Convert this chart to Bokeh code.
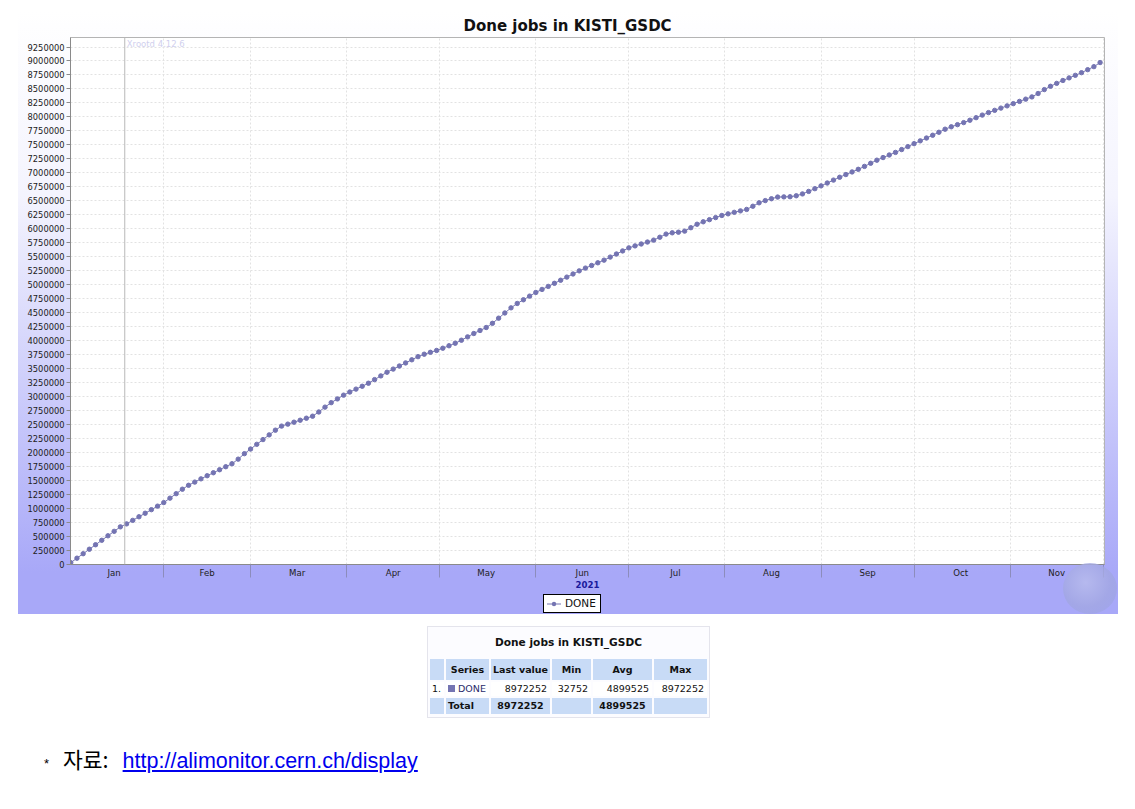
import pandas as pd
from bokeh.plotting import figure
from bokeh.models import (Range1d, FixedTicker, NumeralTickFormatter, Span, Label, Div, Title)
from bokeh.layouts import column
from bokeh.embed import file_html
from bokeh.resources import INLINE

# ---------------- data ----------------
chart_title = "Done jobs in KISTI_GSDC"
series_name = "DONE"
year_label = "2021"
first_date = "2021-01-02"          # one point every two days
marker_date = "2021-01-19 10:00"
marker_text = "Xrootd 4.12.6"
month_names = ["Jan", "Feb", "Mar", "Apr", "May", "Jun", "Jul", "Aug", "Sep", "Oct", "Nov"]
month_mid_dates = ["2021-01-16", "2021-02-15", "2021-03-16", "2021-04-16", "2021-05-16",
                   "2021-06-16", "2021-07-16", "2021-08-16", "2021-09-16", "2021-10-16", "2021-11-16"]
month_start_dates = ["2021-02-01", "2021-03-01", "2021-04-01", "2021-05-01", "2021-06-01",
                     "2021-07-01", "2021-08-01", "2021-09-01", "2021-10-01", "2021-11-01", "2021-12-01"]
y_ticks = list(range(0, 9250001, 250000))

done_values = [
    32752, 113000, 193000, 273000, 353000, 433000, 513000, 593000, 673000, 726000,
    789000, 853000, 916000, 980000, 1043000, 1107000, 1186000, 1266000, 1346000, 1416000,
    1473000, 1531000, 1587000, 1640000, 1694000, 1748000, 1801000, 1883000, 1981000, 2064000,
    2148000, 2233000, 2317000, 2401000, 2474000, 2509000, 2544000, 2579000, 2615000, 2651000,
    2726000, 2813000, 2893000, 2960000, 3027000, 3083000, 3135000, 3186000, 3240000, 3305000,
    3371000, 3437000, 3493000, 3548000, 3603000, 3659000, 3715000, 3759000, 3793000, 3826000,
    3866000, 3910000, 3955000, 4009000, 4069000, 4129000, 4183000, 4236000, 4311000, 4403000,
    4496000, 4588000, 4666000, 4732000, 4797000, 4863000, 4917000, 4971000, 5026000, 5081000,
    5137000, 5193000, 5249000, 5298000, 5345000, 5393000, 5440000, 5495000, 5550000, 5605000,
    5660000, 5695000, 5729000, 5764000, 5798000, 5850000, 5906000, 5929000, 5940000, 5959000,
    6020000, 6082000, 6126000, 6164000, 6201000, 6239000, 6268000, 6295000, 6321000, 6347000,
    6404000, 6465000, 6505000, 6538000, 6568000, 6571000, 6574000, 6591000, 6624000, 6669000,
    6718000, 6768000, 6819000, 6871000, 6922000, 6970000, 7017000, 7064000, 7116000, 7172000,
    7227000, 7274000, 7320000, 7366000, 7417000, 7470000, 7523000, 7573000, 7623000, 7673000,
    7726000, 7781000, 7824000, 7862000, 7899000, 7941000, 7987000, 8033000, 8078000, 8118000,
    8158000, 8198000, 8238000, 8278000, 8318000, 8358000, 8419000, 8489000, 8548000, 8600000,
    8652000, 8698000, 8744000, 8791000, 8845000, 8899000, 8972252,
]

# summary table (as printed under the chart)
table_headers = ["Series", "Last value", "Min", "Avg", "Max"]
table_row = ["8972252", "32752", "4899525", "8972252"]
table_total = ["8972252", "", "4899525", ""]
source_label = "자료:"
source_url = "http://alimonitor.cern.ch/display"

# ---------------- helpers ----------------
def ms(s):
    return float(pd.Timestamp(s).value // 10**6)

dates = pd.date_range(first_date, periods=len(done_values), freq="2D")

SERIES = "#7474b2"
LAVENDER = "#a8a8f8"
FONT = "DejaVu Sans"

p = figure(frame_width=1034, frame_height=527, x_axis_type="datetime",
           x_range=Range1d(ms("2021-01-01 22:00"), ms("2021-12-01 10:00")),
           y_range=Range1d(0, 9420000),
           output_backend="svg", toolbar_location=None,
           min_border_left=52, min_border_right=14, min_border_top=27, min_border_bottom=26,
           margin=(10, 0, 0, 18))
p.border_fill_color = None
p.background_fill_color = "white"
p.styles = {"background": f"linear-gradient(to bottom, #ffffff 0%, #f4f4fe 32%, {LAVENDER} 97%, {LAVENDER} 100%)"}
p.outline_line_color = "#b4b4b4"

p.title = Title(text=chart_title, align="left", text_font=FONT, text_font_size="15px",
                text_font_style="bold", text_color="#111111", offset=393, standoff=6)

# y axis
p.yaxis.ticker = FixedTicker(ticks=y_ticks)
p.yaxis.formatter = NumeralTickFormatter(format="0")
p.yaxis.major_label_text_font = FONT
p.yaxis.major_label_text_font_size = "8.3px"
p.yaxis.major_label_text_color = "#222222"
p.yaxis.major_label_standoff = 2
p.yaxis.major_tick_out = 4
p.yaxis.major_tick_in = 0
p.yaxis.minor_tick_line_color = None
p.yaxis.axis_line_color = "#8a8a8a"
p.yaxis.major_tick_line_color = "#8a8a8a"

# x axis: labels mid-month, tick lines at month boundaries
mid_ms = [ms(d) for d in month_mid_dates]
start_ms = [ms(d) for d in month_start_dates]
p.xaxis.ticker = FixedTicker(ticks=mid_ms, minor_ticks=start_ms)
p.xaxis.major_label_overrides = {t: n for t, n in zip(mid_ms, month_names)}
p.xaxis.major_label_text_font = FONT
p.xaxis.major_label_text_font_size = "8.6px"
p.xaxis.major_label_text_color = "#222222"
p.xaxis.major_label_standoff = -10
p.xaxis.major_tick_out = 0
p.xaxis.major_tick_in = 0
p.xaxis.minor_tick_out = 13
p.xaxis.minor_tick_in = 0
p.xaxis.minor_tick_line_color = "#8c8cbc"
p.xaxis.axis_line_color = "#8a8a8a"
p.xaxis.axis_label = year_label
p.xaxis.axis_label_text_font = FONT
p.xaxis.axis_label_text_font_size = "8.6px"
p.xaxis.axis_label_text_font_style = "bold"
p.xaxis.axis_label_text_color = "#1a1a9c"
p.xaxis.axis_label_standoff = 0

# grids
p.xgrid.ticker = FixedTicker(ticks=start_ms)
p.ygrid.ticker = FixedTicker(ticks=y_ticks)
for g in (p.xgrid, p.ygrid):
    g.grid_line_color = "#e2e2e2"
    g.grid_line_dash = "2 2"
    g.grid_line_width = 1

# event marker
p.add_layout(Span(location=ms(marker_date), dimension="height", line_color="#b8b8b8", line_width=1))
p.add_layout(Label(x=ms(marker_date), y=9300000, text=marker_text, x_offset=2,
                   text_font=FONT, text_font_size="8.5px", text_color="#d0d0ee",
                   text_baseline="middle"))

# series
p.line(dates, done_values, line_color=SERIES, line_width=1)
p.scatter(dates, done_values, size=4.4, fill_color=SERIES, line_color=SERIES)

# ---------------- legend band (continuation of the chart panel) ----------------
legend_html = f"""
<div style="position:relative;width:1100px;height:24px;background:{LAVENDER};">
  <div style="position:absolute;left:1045px;top:-27px;width:54px;height:51px;border-radius:50%;
              background:radial-gradient(circle at 42% 38%, #b9bdec 0%, #a2a7e2 55%, #9da2ea 100%);opacity:0.8;"></div>
  <div style="position:absolute;left:525px;top:4px;box-sizing:border-box;height:19px;padding:0 4px 0 3px;
              background:#ffffff;border:1px solid #000;display:flex;align-items:center;
              font-family:'DejaVu Sans',sans-serif;font-size:10.5px;color:#111;white-space:nowrap;">
    <svg width="14" height="10" style="margin-right:4px;"><line x1="0" y1="5" x2="14" y2="5" stroke="{SERIES}" stroke-width="1"/><circle cx="7" cy="5" r="2.2" fill="{SERIES}"/></svg>{series_name}
  </div>
</div>
"""
legend_div = Div(text=legend_html, width=1100, height=24, margin=(0, 0, 0, 18))

# ---------------- summary table ----------------
BLUE = "#c8dbf6"
cell = "padding:0 2px;white-space:nowrap;"
hdr = "".join(
    f'<th style="{cell}background:{BLUE};text-align:center;">{h}</th>' for h in table_headers)
row = "".join(
    f'<td style="{cell}background:#ffffff;text-align:right;padding-right:3px;">{v}</td>' for v in table_row)
tot = "".join(
    f'<td style="{cell}background:{BLUE};text-align:center;font-weight:bold;">{v}</td>' for v in table_total)
table_html = f"""
<div style="box-sizing:border-box;width:283px;height:92px;border:1px solid #e4e4ec;background:#fcfcff;
            font-family:'DejaVu Sans',sans-serif;color:#111;">
  <div style="box-sizing:border-box;height:30px;padding-top:9px;text-align:center;font-weight:bold;
              font-size:10.6px;line-height:13px;">{chart_title}</div>
  <table style="border-collapse:separate;border-spacing:2px 2px;margin:0;table-layout:fixed;
                font-size:9.5px;width:280px;">
    <colgroup><col style="width:14px"><col style="width:43px"><col style="width:59px">
      <col style="width:39px"><col style="width:59px"><col style="width:53px"></colgroup>
    <tr style="height:21px"><td style="background:{BLUE};"></td>{hdr}</tr>
    <tr style="height:14px"><td style="{cell}background:#ffffff;">1.</td>
      <td style="{cell}background:#ffffff;color:#2b2b6b;"><span style="display:inline-block;width:7px;height:7px;background:{SERIES};margin-right:3px;"></span>{series_name}</td>{row}</tr>
    <tr style="height:16px"><td style="background:{BLUE};"></td>
      <td style="{cell}background:{BLUE};font-weight:bold;">Total</td>{tot}</tr>
  </table>
</div>
"""
table_div = Div(text=table_html, width=283, height=92, margin=(12, 0, 0, 427))

foot_html = f"""
<div style="font-family:'Liberation Sans','Noto Sans CJK KR',sans-serif;font-size:21.5px;line-height:26px;
            white-space:nowrap;color:#000;">
<span style="font-size:13px;">*</span><span style="margin-left:14px;font-family:'Noto Sans CJK KR';">{source_label}</span><a href="{source_url}" style="margin-left:14px;color:#0000ee;text-decoration:underline;">{source_url}</a>
</div>
"""
foot_div = Div(text=foot_html, width=520, height=30, margin=(28, 0, 0, 44))

layout = column(p, legend_div, table_div, foot_div, spacing=0)
open("out.html", "w").write(file_html(layout, INLINE))
